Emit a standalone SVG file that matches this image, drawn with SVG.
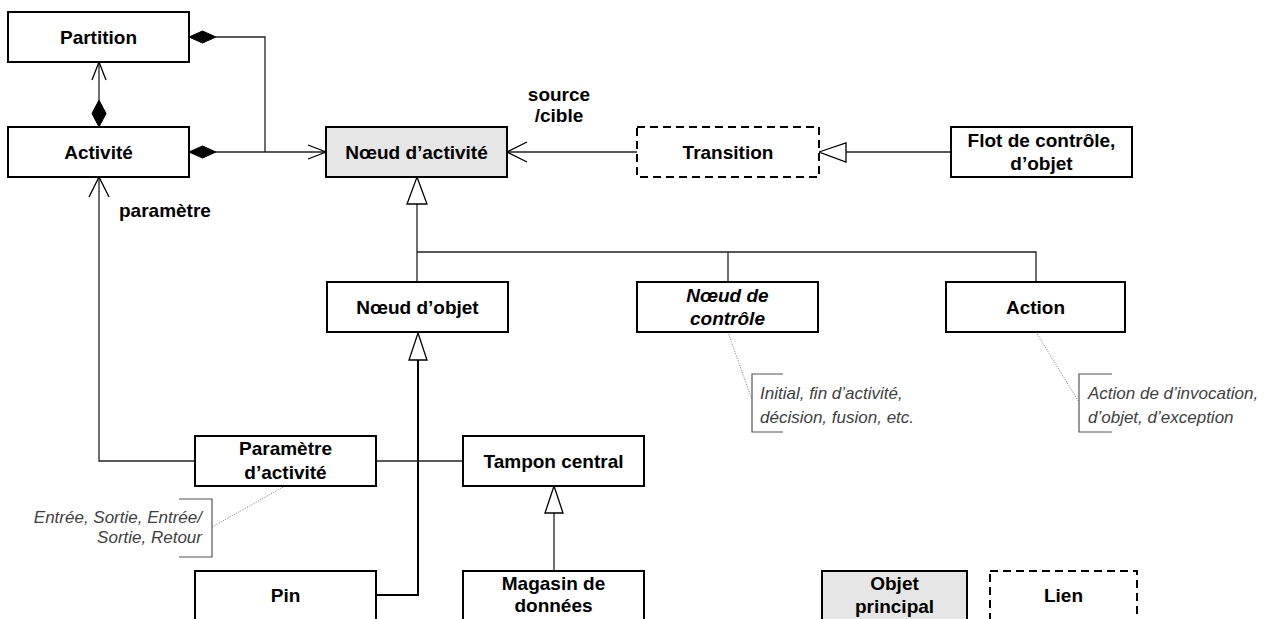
<svg xmlns="http://www.w3.org/2000/svg" width="1265" height="619" viewBox="0 0 1265 619">
<style>
.box{fill:#fff;stroke:#000;stroke-width:2}
.gray{fill:#e6e6e6}
.dash{stroke-dasharray:8,5}
.t{font-family:"Liberation Sans",Arial,sans-serif;font-weight:bold;font-size:19px;text-anchor:middle;fill:#000}
.it{font-style:italic}
.lbl{font-family:"Liberation Sans",Arial,sans-serif;font-weight:bold;font-size:19px;fill:#000}
.note{font-family:"Liberation Sans",Arial,sans-serif;font-style:italic;font-size:17px;fill:#404040}
.ln{fill:none;stroke:#222;stroke-width:1.3}
.thick{fill:none;stroke:#000;stroke-width:2}
.open{fill:none;stroke:#000;stroke-width:1.3}
.dia{fill:#000;stroke:#000;stroke-width:1}
.tri{fill:#fff;stroke:#000;stroke-width:1.3}
.dot{fill:none;stroke:#777;stroke-width:1;stroke-dasharray:1,1.5}
.brk{fill:none;stroke:#555;stroke-width:1.2}
</style>
<rect width="1265" height="619" fill="#fff"/>
<g id="connectors">
  <path class="ln" d="M99,100 V62"/>
  <path class="open" d="M92,80 L99,62 L106,80"/>
  <path class="dia" d="M99,100 L106,113.5 L99,127 L92,113.5 Z"/>
  <path class="ln" d="M216,37 H265 V152"/>
  <path class="dia" d="M189,37 L202.5,31 L216,37 L202.5,43 Z"/>
  <path class="ln" d="M216,152 H326"/>
  <path class="dia" d="M189,152 L202.5,146 L216,152 L202.5,158 Z"/>
  <path class="open" d="M308,145 L326,152 L308,159"/>
  <path class="ln" d="M637,152 H507"/>
  <path class="open" d="M527,142 L507,152 L527,162"/>
  <path class="ln" d="M951,152 H846"/>
  <path class="tri" d="M819,152 L846,143 L846,162 Z"/>
  <path class="ln" d="M417,204 V252 H1036 V282 M728,252 V282 M417,252 V282"/>
  <path class="tri" d="M417,177 L427,204 L407,204 Z"/>
  <path class="thick" d="M418,360 V595 H376"/>
  <path class="tri" d="M418,333 L427,360 L409,360 Z"/>
  <path class="ln" d="M376,461 H463"/>
  <path class="ln" d="M195,461 H99 V177"/>
  <path class="open" d="M89,197 L99,177 L109,197"/>
  <path class="ln" d="M554,513 V571"/>
  <path class="tri" d="M554,486 L563,513 L545,513 Z"/>
  <path class="dot" d="M285,486 L212,527"/>
  <path class="dot" d="M728,332 L752,400"/>
  <path class="dot" d="M1036,332 L1079,402"/>
</g>
<g id="labels">
  <text class="t" x="559" y="100.5">source</text>
  <text class="t" x="559" y="122">/cible</text>
  <text class="lbl" x="119" y="217">paramètre</text>
</g>
<g id="partition"><rect class="box" x="8" y="12" width="181" height="50"/><text class="t" x="98.5" y="44">Partition</text></g>
<g id="activite"><rect class="box" x="8" y="127" width="181" height="50"/><text class="t" x="98.5" y="159">Activité</text></g>
<g id="noeud-activite"><rect class="box gray" x="326" y="127" width="181" height="50"/><text class="t" x="416.5" y="159">Nœud d’activité</text></g>
<g id="transition"><rect class="box dash" x="637" y="127" width="182" height="50"/><text class="t" x="728" y="159">Transition</text></g>
<g id="flot"><rect class="box" x="951" y="127" width="181" height="50"/><text class="t" x="1041.5" y="146.5">Flot de contrôle,</text><text class="t" x="1041.5" y="170">d’objet</text></g>
<g id="noeud-objet"><rect class="box" x="327" y="282" width="181" height="50"/><text class="t" x="417.5" y="314">Nœud d’objet</text></g>
<g id="noeud-controle"><rect class="box" x="637" y="282" width="181" height="50"/><text class="t it" x="727.5" y="301.5">Nœud de</text><text class="t it" x="727.5" y="325">contrôle</text></g>
<g id="action"><rect class="box" x="946" y="282" width="179" height="50"/><text class="t" x="1035.5" y="314">Action</text></g>
<g id="parametre"><rect class="box" x="195" y="436" width="181" height="50"/><text class="t" x="285.5" y="454.5">Paramètre</text><text class="t" x="285.5" y="478.5">d’activité</text></g>
<g id="tampon"><rect class="box" x="463" y="436" width="181" height="50"/><text class="t" x="553.5" y="468">Tampon central</text></g>
<g id="pin"><rect class="box" x="195" y="571" width="181" height="60"/><text class="t" x="285.5" y="602">Pin</text></g>
<g id="magasin"><rect class="box" x="463" y="571" width="181" height="60"/><text class="t" x="553.5" y="589.5">Magasin de</text><text class="t" x="553.5" y="612">données</text></g>
<g id="objet-principal"><rect class="box gray" x="822" y="571" width="145" height="60"/><text class="t" x="894.5" y="589.5">Objet</text><text class="t" x="894.5" y="613">principal</text></g>
<g id="lien"><rect class="box dash" x="990" y="571" width="147" height="60"/><text class="t" x="1063.5" y="602">Lien</text></g>
<g id="note-parametre"><path class="brk" d="M179,499 H212 V557 H179"/><text class="note" x="202" y="523" text-anchor="end">Entrée, Sortie, Entrée/</text><text class="note" x="202" y="543" text-anchor="end">Sortie, Retour</text></g>
<g id="note-controle"><path class="brk" d="M783,374 H752 V432 H783"/><text class="note" x="760" y="399">Initial, fin d’activité,</text><text class="note" x="760" y="423">décision, fusion, etc.</text></g>
<g id="note-action"><path class="brk" d="M1112,374 H1079 V432 H1112"/><text class="note" x="1088" y="399">Action de d’invocation,</text><text class="note" x="1088" y="423">d’objet, d’exception</text></g>
</svg>
